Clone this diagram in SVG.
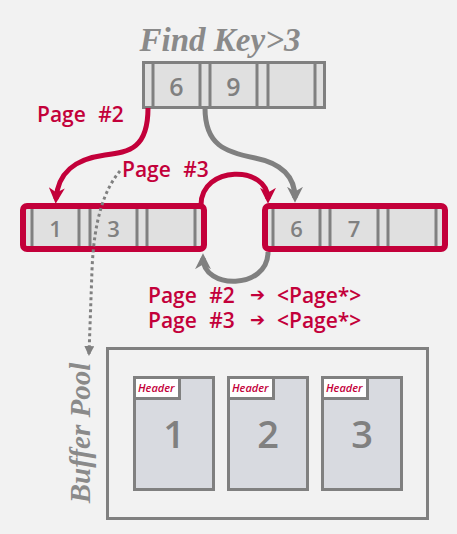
<svg xmlns="http://www.w3.org/2000/svg" width="457" height="534" viewBox="0 0 457 534">
<defs>
<marker id="ar" viewBox="0 0 10 10" refX="7" refY="5" markerUnits="userSpaceOnUse" markerWidth="16" markerHeight="16" orient="auto"><path d="M0,0 L10,5 L0,10 L3,5 z" fill="#c3003a"/></marker>
<marker id="ag" viewBox="0 0 10 10" refX="7" refY="5" markerUnits="userSpaceOnUse" markerWidth="16" markerHeight="16" orient="auto"><path d="M0,0 L10,5 L0,10 L3,5 z" fill="#808080"/></marker>
<marker id="ad" viewBox="0 0 10 10" refX="8" refY="5" markerUnits="userSpaceOnUse" markerWidth="10" markerHeight="10" orient="auto"><path d="M0,0 L10,5 L0,10 z" fill="#808080"/></marker>
</defs>
<style>
.cell{fill:#e0e0e0;stroke:#808080;stroke-width:3}
.div{stroke:#808080;stroke-width:3}
.leaf{fill:none;stroke:#c3003a;stroke-width:6}
.key{font-family:"Open Sans","Noto Sans",sans-serif;font-weight:600;fill:#808080;text-anchor:middle}
.red{font-family:"Open Sans","Noto Sans",sans-serif;font-weight:600;fill:#c3003a}
.arw{font-family:"DejaVu Sans",sans-serif;font-weight:bold;font-size:18px}
.title{font-family:"Liberation Serif",serif;font-style:italic;font-weight:bold;fill:#8a8a8a}
.page{fill:#d8dae0;stroke:#808080;stroke-width:3}
.hdr{fill:#ffffff;stroke:#808080;stroke-width:3}
.hdrt{font-family:"Open Sans","Noto Sans",sans-serif;font-style:italic;font-weight:600;font-size:11px;fill:#c3003a}
.pn{font-family:"Open Sans","Noto Sans",sans-serif;font-weight:600;font-size:38px;fill:#808080;text-anchor:middle}
</style>
<rect width="457" height="534" fill="#f2f2f2"/>
<text class="title" x="220" y="51" font-size="33" text-anchor="middle">Find Key&gt;3</text>

<g id="root">
<rect class="cell" x="143.5" y="62.5" width="181" height="45"/>
<line class="div" x1="153" y1="62" x2="153" y2="108"/>
<line class="div" x1="200" y1="62" x2="200" y2="108"/>
<line class="div" x1="210" y1="62" x2="210" y2="108"/>
<line class="div" x1="257" y1="62" x2="257" y2="108"/>
<line class="div" x1="268" y1="62" x2="268" y2="108"/>
<line class="div" x1="315" y1="62" x2="315" y2="108"/>
<text class="key" x="176.5" y="96" font-size="25">6</text>
<text class="key" x="233.5" y="96" font-size="25">9</text>
</g>

<g id="leaf-left">
<rect x="23" y="206" width="181" height="43" fill="#e0e0e0"/>
<line class="div" x1="32" y1="206" x2="32" y2="249"/>
<line class="div" x1="79" y1="206" x2="79" y2="249"/>
<line class="div" x1="90" y1="206" x2="90" y2="249"/>
<line class="div" x1="137" y1="206" x2="137" y2="249"/>
<line class="div" x1="147" y1="206" x2="147" y2="249"/>
<line class="div" x1="195" y1="206" x2="195" y2="249"/>
<rect class="leaf" x="23" y="206" width="181" height="43" rx="4"/>
<text class="key" x="55.5" y="237" font-size="22">1</text>
<text class="key" x="113.5" y="237" font-size="22">3</text>
</g>

<g id="leaf-right">
<rect x="265" y="206" width="180" height="43" fill="#e0e0e0"/>
<line class="div" x1="273" y1="206" x2="273" y2="249"/>
<line class="div" x1="320" y1="206" x2="320" y2="249"/>
<line class="div" x1="330" y1="206" x2="330" y2="249"/>
<line class="div" x1="378" y1="206" x2="378" y2="249"/>
<line class="div" x1="388" y1="206" x2="388" y2="249"/>
<line class="div" x1="436" y1="206" x2="436" y2="249"/>
<rect class="leaf" x="265" y="206" width="180" height="43" rx="4"/>
<text class="key" x="296.5" y="237" font-size="22">6</text>
<text class="key" x="354" y="237" font-size="22">7</text>
</g>

<g id="connectors" fill="none">
<path d="M148,108 C148,148 130,152 105,155 C75,159 58,172 56,199" stroke="#c3003a" stroke-width="5" marker-end="url(#ar)"/>
<path d="M205,108 C205,145 225,152 255,158 C285,164 295,180 295,198" stroke="#808080" stroke-width="5" marker-end="url(#ag)"/>
<path d="M201,205 C201,165 268,165 268,199" stroke="#c3003a" stroke-width="5" marker-end="url(#ar)"/>
<path d="M268,252 C268,290 203,290 203,258" stroke="#808080" stroke-width="5" marker-end="url(#ag)"/>
<path d="M120,171 C104,190 94,220 92,270 L89,354" stroke="#808080" stroke-width="3" stroke-dasharray="3,3" marker-end="url(#ad)"/>
</g>

<g id="labels">
<text class="red" x="37" y="122" font-size="21" word-spacing="7">Page #2</text>
<text class="red" x="122" y="177" font-size="21" word-spacing="7">Page #3</text>
<text class="red" font-size="21" word-spacing="7"><tspan x="148" y="303">Page #2</tspan><tspan class="arw" x="250" y="301">➔</tspan><tspan x="277" y="303">&lt;Page*&gt;</tspan><tspan x="148" y="328">Page #3</tspan><tspan class="arw" x="250" y="326">➔</tspan><tspan x="277" y="328">&lt;Page*&gt;</tspan></text>
</g>

<g id="buffer-pool">
<rect x="107.5" y="348.5" width="320" height="170" fill="#f2f2f2" stroke="#808080" stroke-width="3"/>
<text class="title" transform="translate(90,433) rotate(-90)" font-size="29" text-anchor="middle">Buffer Pool</text>
</g>

<g id="page1">
<rect class="page" x="134.5" y="377.5" width="79" height="112"/>
<rect class="hdr" x="134.5" y="377.5" width="45" height="21"/>
<text class="hdrt" x="138" y="392">Header</text>
<text class="pn" x="174" y="448">1</text>
</g>
<g id="page2">
<rect class="page" x="228.5" y="377.5" width="79" height="112"/>
<rect class="hdr" x="228.5" y="377.5" width="45" height="21"/>
<text class="hdrt" x="232" y="392">Header</text>
<text class="pn" x="268" y="448">2</text>
</g>
<g id="page3">
<rect class="page" x="322.5" y="377.5" width="79" height="112"/>
<rect class="hdr" x="322.5" y="377.5" width="45" height="21"/>
<text class="hdrt" x="326" y="392">Header</text>
<text class="pn" x="362" y="448">3</text>
</g>
</svg>
